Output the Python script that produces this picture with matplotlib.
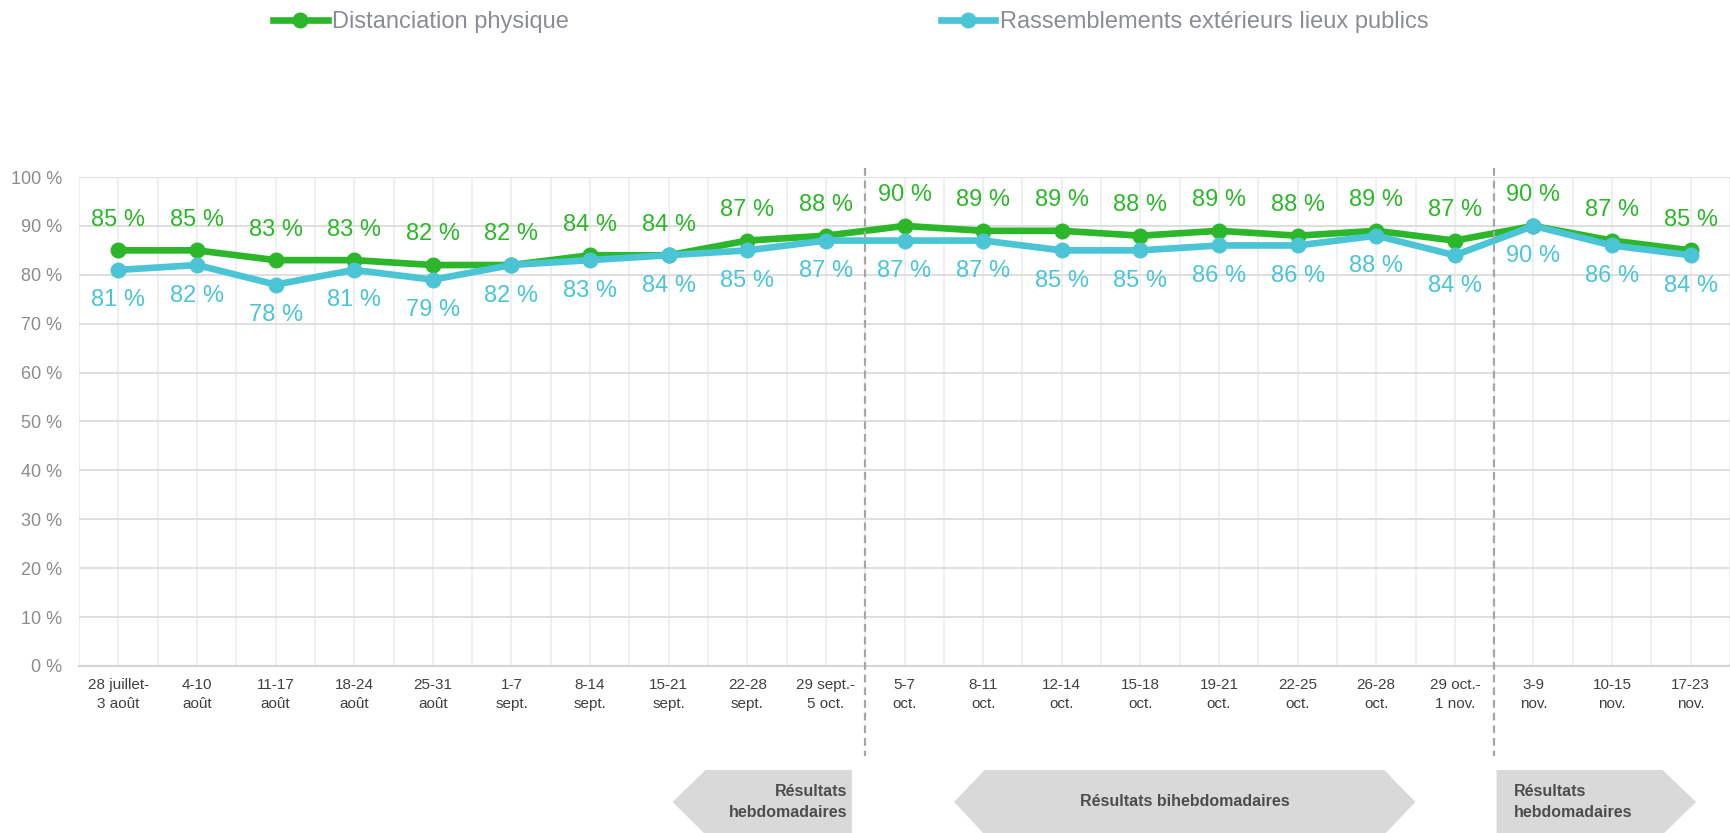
import matplotlib.pyplot as plt
from matplotlib.patches import Polygon
from matplotlib.lines import Line2D

plt.rcParams['font.family'] = ['Liberation Sans', 'DejaVu Sans']

categories = ["28 juillet-\n3 août", "4-10\naoût", "11-17\naoût", "18-24\naoût", "25-31\naoût",
              "1-7\nsept.", "8-14\nsept.", "15-21\nsept.", "22-28\nsept.", "29 sept.-\n5 oct.",
              "5-7\noct.", "8-11\noct.", "12-14\noct.", "15-18\noct.", "19-21\noct.",
              "22-25\noct.", "26-28\noct.", "29 oct.-\n1 nov.", "3-9\nnov.", "10-15\nnov.",
              "17-23\nnov."]
distanciation = [85, 85, 83, 83, 82, 82, 84, 84, 87, 88, 90, 89, 89, 88, 89, 88, 89, 87, 90, 87, 85]
rassemblements = [81, 82, 78, 81, 79, 82, 83, 84, 85, 87, 87, 87, 85, 85, 86, 86, 88, 84, 90, 86, 84]
yticks = [0, 10, 20, 30, 40, 50, 60, 70, 80, 90, 100]
period_breaks = [9.5, 17.5]

green = '#2cb72a'
blue = '#4bc5d5'

fig = plt.figure(figsize=(17.3, 8.33), dpi=100)
ax = fig.add_axes([0.0457, 0.2005, 0.9543, 0.587])

x = list(range(len(categories)))
ax.plot(x, distanciation, color=green, lw=4.8, marker='o', ms=10.5, zorder=3)
ax.plot(x, rassemblements, color=blue, lw=4.8, marker='o', ms=10.5, zorder=4)

for xi, v in zip(x, distanciation):
    ax.annotate(f"{v} %", (xi, v), xytext=(0, 22), textcoords='offset points',
                ha='center', va='center', fontsize=17, color=green)
for xi, v in zip(x, rassemblements):
    ax.annotate(f"{v} %", (xi, v), xytext=(0, -22), textcoords='offset points',
                ha='center', va='center', fontsize=17, color=blue)

ax.set_xlim(-0.5, len(categories) - 0.5)
ax.set_ylim(0, 100)
ax.set_yticks(yticks)
ax.set_yticklabels([f"{t} %" for t in yticks], fontsize=13, color='#8c8c8c')
ax.set_xticks(x)
ax.set_xticklabels(categories, fontsize=11, color='#404040', linespacing=1.4)
ax.set_xticks([i - 0.5 for i in range(len(categories) + 1)], minor=True)
ax.tick_params(axis='both', which='both', length=0)
ax.tick_params(axis='y', pad=12)
ax.tick_params(axis='x', pad=9)

ax.grid(axis='y', color='#dcdcdc', lw=1.3)
ax.grid(axis='x', which='both', color='#eeeeee', lw=1.3)
ax.set_axisbelow(True)
for s in ['top', 'right', 'left']:
    ax.spines[s].set_visible(False)
ax.spines['bottom'].set_color('#d4d4d4')
ax.spines['bottom'].set_linewidth(1.5)

trans = ax.get_xaxis_transform()
for b in period_breaks:
    ax.plot([b, b], [1.018, -0.184], transform=trans, clip_on=False,
            color='#a6a6a6', lw=1.6, ls=(0, (3.5, 2.2)), zorder=5)

# period banners below the axis
y_top, y_mid, y_bot = -0.2127, -0.278, -0.345
banners = [
    [(7.05, y_mid), (7.47, y_top), (9.33, y_top), (9.33, y_bot), (7.47, y_bot)],
    [(10.63, y_mid), (11.02, y_top), (16.1, y_top), (16.5, y_mid), (16.1, y_bot), (11.02, y_bot)],
    [(17.53, y_top), (19.64, y_top), (20.07, y_mid), (19.64, y_bot), (17.53, y_bot)],
]
for pts in banners:
    ax.add_patch(Polygon(pts, closed=True, transform=trans, clip_on=False,
                         facecolor='#d9d9d9', edgecolor='none'))
banner_style = dict(transform=trans, va='center', fontsize=11.5, fontweight='bold',
                    color='#4d4d4d', linespacing=1.5)
ax.text(9.27, y_mid, "Résultats\nhebdomadaires", ha='right', **banner_style)
ax.text(13.56, y_mid, "Résultats bihebdomadaires", ha='center', **banner_style)
ax.text(17.75, y_mid, "Résultats\nhebdomadaires", ha='left', **banner_style)

h1 = Line2D([], [], color=green, lw=4.8, marker='o', ms=10.5)
h2 = Line2D([], [], color=blue, lw=4.8, marker='o', ms=10.5)
for h, lab, xpos in [(h1, "Distanciation physique", 0.158), (h2, "Rassemblements extérieurs lieux publics", 0.544)]:
    fig.legend([h], [lab], loc='center left', bbox_to_anchor=(xpos, 0.973), frameon=False,
               fontsize=17, labelcolor='#8a8c96', handlelength=2.3, handletextpad=0.2,
               borderpad=0, borderaxespad=0)

fig.savefig("out.png", dpi=100, facecolor='white')
